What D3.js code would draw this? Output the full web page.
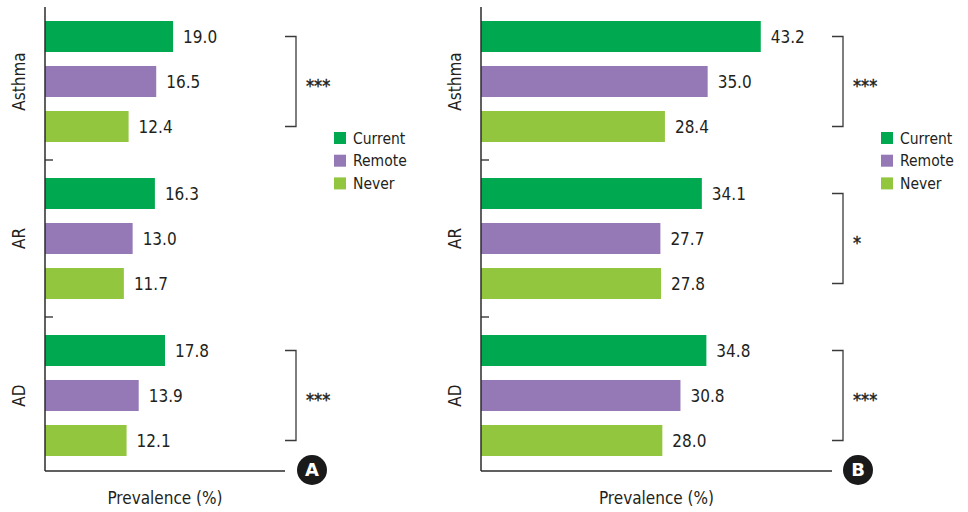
<!DOCTYPE html>
<html>
<head>
<meta charset="utf-8">
<script src="https://cdn.jsdelivr.net/npm/d3@7"></script>
<style>
  html, body { margin: 0; padding: 0; background: #fff; }
  svg { display: block; }
  text { font-family: "DejaVu Sans Condensed", "Liberation Sans Narrow", "DejaVu Sans", sans-serif; fill: #231f20; }
</style>
</head>
<body>
<svg id="chart" width="968" height="512"></svg>
<script>
const categories = ["Asthma", "AR", "AD"];
const series = ["Current", "Remote", "Never"];
const colors = ["#00a94f", "#9579b6", "#92c63e"];

const valuesA = [
  [19.0, 16.5, 12.4],
  [16.3, 13.0, 11.7],
  [17.8, 13.9, 12.1]
];
const valuesB = [
  [43.2, 35.0, 28.4],
  [34.1, 27.7, 27.8],
  [34.8, 30.8, 28.0]
];
const sigA = ["***", "", "***"];
const sigB = ["***", "*", "***"];
const xMaxA = 35.6;
const xMaxB = 54.2;
const axisTitle = "Prevalence (%)";

const svg = d3.select("#chart");

function drawPanel(cfg) {
  const g = svg.append("g");
  const x = d3.scaleLinear().domain([0, cfg.xMax]).range([cfg.x0, cfg.x1]);
  const yG = d3.scaleBand().domain(categories).range([3, 474]);
  const yS = d3.scaleBand().domain(series).range([0, yG.bandwidth()])
    .paddingInner(0.311).paddingOuter(0.4);
  const axisTop = 7, axisBottom = 471;

  categories.forEach((c, ci) => {
    const gg = g.append("g").attr("transform", `translate(0,${yG(c)})`);
    gg.selectAll("rect").data(series).join("rect")
      .attr("x", x(0))
      .attr("y", s => yS(s))
      .attr("width", (s, si) => x(cfg.values[ci][si]) - x(0))
      .attr("height", yS.bandwidth())
      .attr("fill", (s, si) => colors[si]);
    gg.selectAll("text.val").data(series).join("text")
      .attr("class", "val")
      .attr("x", (s, si) => x(cfg.values[ci][si]) + 10)
      .attr("y", s => yS(s) + yS.bandwidth() / 2)
      .attr("dy", "0.36em")
      .style("font-size", "17px")
      .text((s, si) => cfg.values[ci][si].toFixed(1));

    g.append("text")
      .attr("transform", `translate(${cfg.x0 - 20},${yG(c) + yG.bandwidth() / 2}) rotate(-90)`)
      .attr("text-anchor", "middle")
      .style("font-size", "17px")
      .text(c);

    if (cfg.sig[ci]) {
      const yt = yG(c) + yS(series[0]) + yS.bandwidth() / 2;
      const yb = yG(c) + yS(series[series.length - 1]) + yS.bandwidth() / 2;
      const bx = cfg.bracketX;
      g.append("path")
        .attr("d", `M${bx - 11},${yt}H${bx}V${yb}H${bx - 11}`)
        .attr("fill", "none").attr("stroke", "#3a3a3a").attr("stroke-width", 1.3);
      g.append("text")
        .attr("x", bx + 10)
        .attr("y", (yt + yb) / 2 + 10.5)
        .style("font-size", "18px")
        .style("stroke", "#231f20").style("stroke-width", 0.4)
        .text(cfg.sig[ci]);
    }
  });

  g.append("line")
    .attr("x1", cfg.x0).attr("x2", cfg.x0)
    .attr("y1", axisTop).attr("y2", axisBottom)
    .attr("stroke", "#2b2b2b").attr("stroke-width", 1.5);
  g.append("line")
    .attr("x1", cfg.x0).attr("x2", cfg.x1)
    .attr("y1", axisBottom).attr("y2", axisBottom)
    .attr("stroke", "#2b2b2b").attr("stroke-width", 1.5);
  categories.slice(1).forEach(c => {
    g.append("line")
      .attr("x1", cfg.x0).attr("x2", cfg.x0 + 8)
      .attr("y1", yG(c)).attr("y2", yG(c))
      .attr("stroke", "#2b2b2b").attr("stroke-width", 1.3);
  });

  g.append("text")
    .attr("x", (cfg.x0 + cfg.x1) / 2)
    .attr("y", 504)
    .attr("text-anchor", "middle")
    .style("font-size", "17px")
    .text(axisTitle);

  const lg = g.append("g");
  series.forEach((s, si) => {
    const ly = 132 + si * 22.7;
    lg.append("rect").attr("x", cfg.legendX).attr("y", ly)
      .attr("width", 12).attr("height", 12).attr("fill", colors[si]);
    lg.append("text").attr("x", cfg.legendX + 19).attr("y", ly + 6)
      .attr("dy", "0.36em").style("font-size", "15.5px").text(s);
  });

  g.append("circle").attr("cx", cfg.badgeX).attr("cy", 470).attr("r", 15).attr("fill", "#1a1a1a");
  g.append("text").attr("x", cfg.badgeX).attr("y", 470).attr("dy", "0.36em")
    .attr("text-anchor", "middle")
    .style("font-size", "18px").style("font-weight", "bold")
    .style("font-family", "'DejaVu Sans', sans-serif")
    .style("fill", "#fff")
    .text(cfg.letter);
}

drawPanel({ values: valuesA, sig: sigA, xMax: xMaxA, x0: 45, x1: 285, bracketX: 296, legendX: 334, badgeX: 312, letter: "A" });
drawPanel({ values: valuesB, sig: sigB, xMax: xMaxB, x0: 481, x1: 832, bracketX: 843, legendX: 881, badgeX: 858, letter: "B" });
</script>
</body>
</html>
